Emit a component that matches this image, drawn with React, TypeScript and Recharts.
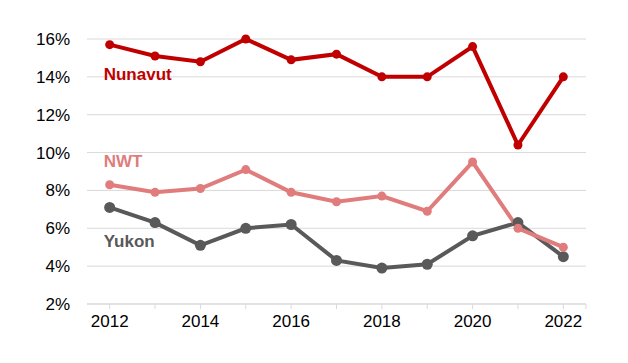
import React from "react";
import {
  LineChart,
  Line,
  XAxis,
  YAxis,
  CartesianGrid,
  LabelList,
} from "recharts";

const years = ["2012", "2013", "2014", "2015", "2016", "2017", "2018", "2019", "2020", "2021", "2022"];
const nunavut = [15.7, 15.1, 14.8, 16.0, 14.9, 15.2, 14.0, 14.0, 15.6, 10.4, 14.0];
const nwt = [8.3, 7.9, 8.1, 9.1, 7.9, 7.4, 7.7, 6.9, 9.5, 6.0, 5.0];
const yukon = [7.1, 6.3, 5.1, 6.0, 6.2, 4.3, 3.9, 4.1, 5.6, 6.3, 4.5];
const yTicks = [2, 4, 6, 8, 10, 12, 14, 16];
const labeledYears = ["2012", "2014", "2016", "2018", "2020", "2022"];

const data = years.map((y, i) => ({
  year: y,
  Nunavut: nunavut[i],
  NWT: nwt[i],
  Yukon: yukon[i],
}));

const FONT = "'Liberation Sans', Arial, sans-serif";
const AXIS_COLOR = "#d9d9d9";

const XTick = (props: any) => {
  const { x, y, payload, index, visibleTicksCount } = props;
  const half = payload && payload.offset ? payload.offset : 0;
  const isLast = index === (visibleTicksCount ?? years.length) - 1;
  return (
    <g>
      <line x1={x} x2={x} y1={y} y2={y + 5} stroke={AXIS_COLOR} strokeWidth={1} />
      {isLast && half ? (
        <line x1={x + half} x2={x + half} y1={y} y2={y + 5} stroke={AXIS_COLOR} strokeWidth={1} />
      ) : null}
      {labeledYears.includes(String(payload.value)) ? (
        <text x={x} y={y + 23} textAnchor="middle" fill="#000" fontSize={17} fontFamily={FONT}>
          {payload.value}
        </text>
      ) : null}
    </g>
  );
};

const makeSeriesLabel = (name: string, color: string, dy: number) => (props: any) => {
  const { x, y, index } = props;
  if (index !== 0) return null;
  return (
    <text x={x - 6} y={y + dy} fill={color} fontSize={17} fontWeight="bold" fontFamily={FONT} textAnchor="start">
      {name}
    </text>
  );
};

export default function App() {
  return (
    <div style={{ width: 620, height: 355, background: "#fff" }}>
      <LineChart
        width={620}
        height={355}
        data={data}
        margin={{ top: 31, right: 42, left: 0, bottom: 0 }}
      >
        <CartesianGrid vertical={false} stroke={AXIS_COLOR} strokeWidth={1} />
        <XAxis
          dataKey="year"
          scale="band"
          interval={0}
          height={59}
          axisLine={{ stroke: AXIS_COLOR, strokeWidth: 1 }}
          tickLine={false}
          tickSize={0}
          tickMargin={0}
          tick={<XTick />}
        />
        <YAxis
          domain={[2, 16]}
          ticks={yTicks}
          width={79}
          axisLine={false}
          tickLine={false}
          tickSize={0}
          tickMargin={17}
          tickFormatter={(v: number) => `${v}%`}
          tick={{ fill: "#000", fontSize: 17, fontFamily: FONT }}
        />
        <Line
          type="linear"
          dataKey="Yukon"
          stroke="#595959"
          strokeWidth={4}
          dot={{ r: 5.5, fill: "#595959", stroke: "none" }}
          isAnimationActive={false}
        >
          <LabelList dataKey="Yukon" content={makeSeriesLabel("Yukon", "#595959", 39.4)} />
        </Line>
        <Line
          type="linear"
          dataKey="NWT"
          stroke="#E07C7C"
          strokeWidth={4}
          dot={{ r: 4.5, fill: "#E07C7C", stroke: "none" }}
          isAnimationActive={false}
        >
          <LabelList dataKey="NWT" content={makeSeriesLabel("NWT", "#E07C7C", -17.5)} />
        </Line>
        <Line
          type="linear"
          dataKey="Nunavut"
          stroke="#C00000"
          strokeWidth={4}
          dot={{ r: 4.5, fill: "#C00000", stroke: "none" }}
          isAnimationActive={false}
        >
          <LabelList dataKey="Nunavut" content={makeSeriesLabel("Nunavut", "#C00000", 35)} />
        </Line>
      </LineChart>
    </div>
  );
}
